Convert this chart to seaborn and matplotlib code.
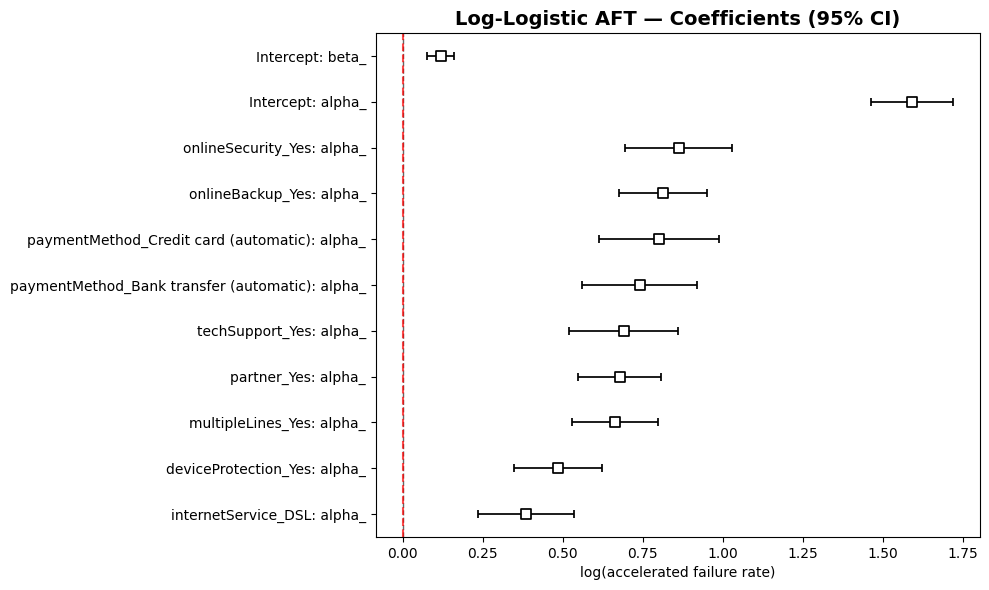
import numpy as np
import pandas as pd
import matplotlib
matplotlib.use("Agg")
import matplotlib.pyplot as plt
import seaborn as sns

# Data (bottom to top)
labels = [
    "internetService_DSL: alpha_",
    "deviceProtection_Yes: alpha_",
    "multipleLines_Yes: alpha_",
    "partner_Yes: alpha_",
    "techSupport_Yes: alpha_",
    "paymentMethod_Bank transfer (automatic): alpha_",
    "paymentMethod_Credit card (automatic): alpha_",
    "onlineBackup_Yes: alpha_",
    "onlineSecurity_Yes: alpha_",
    "Intercept: alpha_",
    "Intercept: beta_",
]
coef = [0.384, 0.484, 0.663, 0.678, 0.691, 0.741, 0.800, 0.813, 0.863, 1.590, 0.118]
lower = [0.234, 0.347, 0.528, 0.547, 0.519, 0.559, 0.613, 0.675, 0.694, 1.463, 0.077]
upper = [0.534, 0.622, 0.797, 0.806, 0.859, 0.919, 0.988, 0.950, 1.028, 1.719, 0.159]

df = pd.DataFrame({"label": labels, "coef": coef, "lower": lower, "upper": upper})
df["pos"] = np.arange(len(df))

plt.rcParams["font.family"] = ["DejaVu Sans"]

fig, ax = plt.subplots(figsize=(9.89, 5.9), dpi=100)
fig.subplots_adjust(left=0.380, right=0.991, top=0.944, bottom=0.090)

ax.axvline(0, ls="--", color="k", alpha=0.6, lw=1.0)
ax.axvline(0, ls="--", color="red", alpha=0.7, lw=1.5)

xerr = np.vstack([df["coef"] - df["lower"], df["upper"] - df["coef"]])
ax.errorbar(df["coef"], df["pos"], xerr=xerr, fmt="none", ecolor="k",
            elinewidth=1.25, capsize=3, capthick=1.25, zorder=2)
sns.scatterplot(data=df, x="coef", y="pos", marker="s", s=46, color="white",
                edgecolor="k", linewidth=1.25, ax=ax, zorder=3, legend=False)

ax.set_yticks(df["pos"])
ax.set_yticklabels(df["label"])
ax.set_ylim(-0.5, len(df) - 0.5)
ax.set_xlim(-0.084, 1.803)
ax.set_xticks([0, 0.25, 0.5, 0.75, 1.0, 1.25, 1.5, 1.75])
ax.set_xticklabels(["0.00", "0.25", "0.50", "0.75", "1.00", "1.25", "1.50", "1.75"])
ax.set_xlabel("log(accelerated failure rate)")
ax.set_ylabel("")
ax.set_title("Log-Logistic AFT — Coefficients (95% CI)", fontsize=14, fontweight="bold")

fig.savefig("out.png", dpi=100)
